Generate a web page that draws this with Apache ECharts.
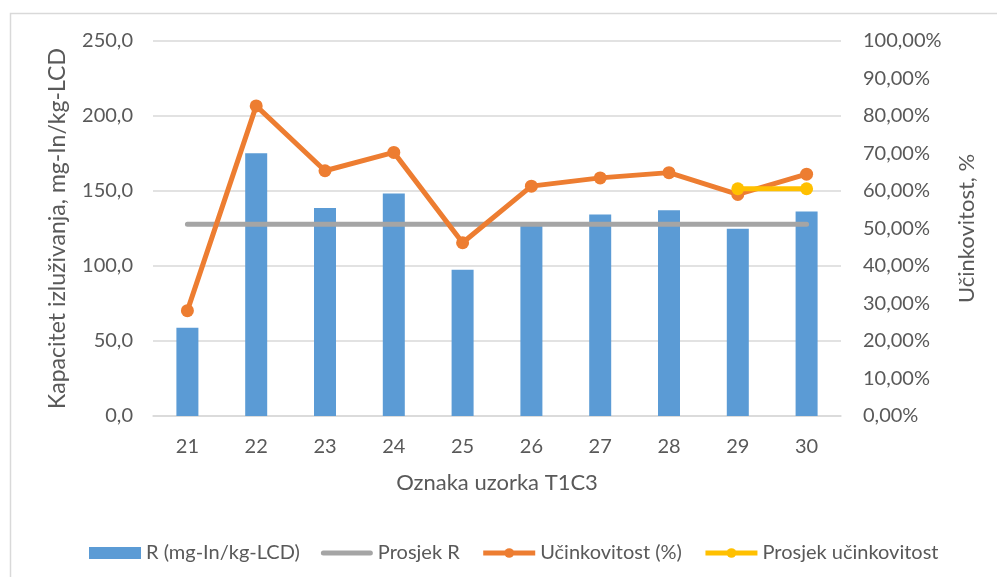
<!DOCTYPE html>
<html>
<head>
<meta charset="utf-8">
<script src="https://cdn.jsdelivr.net/npm/echarts@6/dist/echarts.min.js"></script>
<style>
  html, body { margin: 0; padding: 0; background: #ffffff; }
  #chart { width: 997px; height: 577px; }
</style>
</head>
<body>
<div id="chart"></div>
<script>
// Sample labels (T1C3 series)
const categories = ['21', '22', '23', '24', '25', '26', '27', '28', '29', '30'];
// Leaching capacity R, mg-In/kg-LCD
const capacityR = [58.9, 175.1, 138.7, 148.4, 97.5, 127.0, 134.4, 137.1, 124.9, 136.4];
// Mean of R
const averageR = [127.8, 127.8, 127.8, 127.8, 127.8, 127.8, 127.8, 127.8, 127.8, 127.8];
// Efficiency, %
const efficiency = [28.1, 82.7, 65.4, 70.3, 46.2, 61.3, 63.5, 64.9, 59.1, 64.5];
// Mean efficiency, shown over the last two samples
const averageEfficiency = [null, null, null, null, null, null, null, null, 60.6, 60.6];

const FONT = 'Lato';
const TEXT = '#595959';
const GRID = '#d9d9d9';

const chart = echarts.init(document.getElementById('chart'), null, { renderer: 'canvas' });

chart.setOption({
  animation: false,
  backgroundColor: '#ffffff',
  textStyle: { fontFamily: FONT, color: TEXT },
  graphic: [
    {
      type: 'rect',
      shape: { x: 10.5, y: 13.5, width: 1000, height: 600 },
      style: { fill: 'none', stroke: '#d9d9d9', lineWidth: 1.5 },
      silent: true
    }
  ],
  grid: { left: 153, right: 156, top: 41, bottom: 161 },
  legend: {
    top: 538,
    left: 84,
    itemWidth: 52,
    itemHeight: 12,
    itemGap: 21,
    textStyle: { fontFamily: FONT, fontSize: 20, color: TEXT },
    data: [
      { name: 'R (mg-In/kg-LCD)', icon: 'rect' },
      // plain thick stroke for the mean line (no marker)
      { name: 'Prosjek R', icon: 'path://M2.5,0H49.5A2.5,2.5 0 0 1 49.5,5H2.5A2.5,2.5 0 0 1 2.5,0Z' },
      { name: 'Učinkovitost (%)', lineStyle: { width: 5 } },
      { name: 'Prosjek učinkovitost', lineStyle: { width: 5 } }
    ]
  },
  xAxis: {
    type: 'category',
    data: categories,
    name: 'Oznaka uzorka T1C3',
    nameLocation: 'middle',
    nameGap: 56,
    nameTextStyle: { fontFamily: FONT, fontSize: 22, color: TEXT },
    axisLine: { lineStyle: { color: GRID, width: 1.5 } },
    axisTick: { show: false },
    axisLabel: { fontFamily: FONT, fontSize: 20, color: TEXT, margin: 21 }
  },
  yAxis: [
    {
      type: 'value',
      min: 0, max: 250, interval: 50,
      name: 'Kapacitet izluživanja, mg-In/kg-LCD',
      nameLocation: 'middle',
      nameGap: 84,
      nameTextStyle: { fontFamily: FONT, fontSize: 23, color: TEXT },
      axisLine: { show: false },
      axisTick: { show: false },
      splitLine: { lineStyle: { color: GRID, width: 1.5 } },
      axisLabel: {
        fontFamily: FONT, fontSize: 20, color: TEXT, margin: 20,
        formatter: v => v.toFixed(1).replace('.', ',')
      }
    },
    {
      type: 'value',
      min: 0, max: 100, interval: 10,
      name: 'Učinkovitost, %',
      nameLocation: 'middle',
      nameGap: 115,
      nameRotate: 90,
      nameTextStyle: { fontFamily: FONT, fontSize: 22, color: TEXT },
      axisLine: { show: false },
      axisTick: { show: false },
      splitLine: { show: false },
      axisLabel: {
        fontFamily: FONT, fontSize: 20, color: TEXT, margin: 22,
        formatter: v => v.toFixed(2).replace('.', ',') + '%'
      }
    }
  ],
  series: [
    {
      name: 'R (mg-In/kg-LCD)',
      type: 'bar',
      data: capacityR,
      barWidth: 22,
      itemStyle: { color: '#5b9bd5' }
    },
    {
      name: 'Prosjek R',
      type: 'line',
      data: averageR,
      symbol: 'none',
      lineStyle: { color: '#a5a5a5', width: 5, cap: 'round' },
      itemStyle: { color: '#a5a5a5' }
    },
    {
      name: 'Učinkovitost (%)',
      type: 'line',
      yAxisIndex: 1,
      data: efficiency,
      symbol: 'circle',
      symbolSize: 13,
      lineStyle: { color: '#ed7d31', width: 5, join: 'round' },
      itemStyle: { color: '#ed7d31' }
    },
    {
      name: 'Prosjek učinkovitost',
      type: 'line',
      yAxisIndex: 1,
      data: averageEfficiency,
      symbol: 'circle',
      symbolSize: 13,
      lineStyle: { color: '#ffc000', width: 5 },
      itemStyle: { color: '#ffc000' }
    }
  ]
});
</script>
</body>
</html>
